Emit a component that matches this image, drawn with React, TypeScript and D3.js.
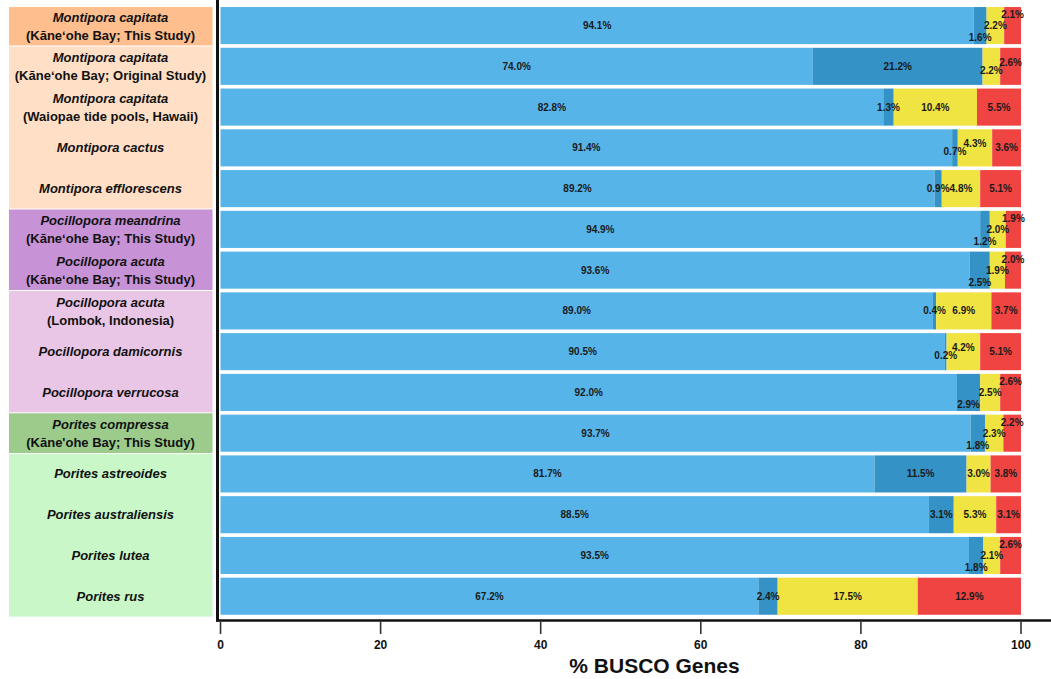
import React from 'react';
import * as d3 from 'd3';

// Species shown on the y axis (italic first line) and their locality notes (second line)
const species = [
  'Montipora capitata',
  'Montipora capitata',
  'Montipora capitata',
  'Montipora cactus',
  'Montipora efflorescens',
  'Pocillopora meandrina',
  'Pocillopora acuta',
  'Pocillopora acuta',
  'Pocillopora damicornis',
  'Pocillopora verrucosa',
  'Porites compressa',
  'Porites astreoides',
  'Porites australiensis',
  'Porites lutea',
  'Porites rus',
];
const localities = [
  '(Kāneʻohe Bay; This Study)',
  '(Kāneʻohe Bay; Original Study)',
  '(Waiopae tide pools, Hawaii)',
  '',
  '',
  '(Kāneʻohe Bay; This Study)',
  '(Kāneʻohe Bay; This Study)',
  '(Lombok, Indonesia)',
  '',
  '',
  "(Kāne'ohe Bay; This Study)",
  '',
  '',
  '',
  '',
];

// BUSCO categories (percent of genes)
const completeSingle = [94.1, 74.0, 82.8, 91.4, 89.2, 94.9, 93.6, 89.0, 90.5, 92.0, 93.7, 81.7, 88.5, 93.5, 67.2];
const completeDuplicated = [1.6, 21.2, 1.3, 0.7, 0.9, 1.2, 2.5, 0.4, 0.2, 2.9, 1.8, 11.5, 3.1, 1.8, 2.4];
const fragmented = [2.2, 2.2, 10.4, 4.3, 4.8, 2.0, 1.9, 6.9, 4.2, 2.5, 2.3, 3.0, 5.3, 2.1, 17.5];
const missing = [2.1, 2.6, 5.5, 3.6, 5.1, 1.9, 2.0, 3.7, 5.1, 2.6, 2.2, 3.8, 3.1, 2.6, 12.9];

const categoryKeys = ['single', 'duplicated', 'fragmented', 'missing'];
const categoryColors = ['#56B4E9', '#3492C7', '#F0E442', '#F04442'];

// Background band for each species label, grouped by genus / study
const groupColors = ['#FFBE8E', '#FFDFC5', '#C793D6', '#EAC6E6', '#9CCB8C', '#C9F7C8'];
const rowGroup = [0, 1, 1, 1, 1, 2, 2, 3, 3, 3, 4, 5, 5, 5, 5];

const xTicks = [0, 20, 40, 60, 80, 100];

const W = 1051;
const H = 679;
const FONT = '"Liberation Sans", Arial, Helvetica, sans-serif';

// Rough bold 10px glyph widths for label collision checks
function labelWidth(s: string): number {
  let w = 0;
  for (const c of s) {
    if (c === '.') w += 2.78;
    else if (c === '%') w += 8.89;
    else w += 5.56;
  }
  return w;
}

export default function App() {
  const rows = species.map((s, i) => ({
    id: String(i),
    single: completeSingle[i],
    duplicated: completeDuplicated[i],
    fragmented: fragmented[i],
    missing: missing[i],
  }));

  const x = d3.scaleLinear().domain([0, 100]).range([220.5, 1021]);
  const y = d3
    .scaleBand<string>()
    .domain(rows.map((r) => r.id))
    .range([5.2, 616.6])
    .paddingInner(0.09)
    .paddingOuter(0.045);
  const bw = y.bandwidth();
  const gap = y.step() - bw;

  const stacked = d3.stack<any>().keys(categoryKeys)(rows);

  // Value labels: centred on their segment, crowded neighbours staggered vertically
  type Lab = { text: string; cx: number; cy: number; dy: number };
  const labels: Lab[] = [];
  rows.forEach((r, i) => {
    const items = stacked.map((layer) => {
      const d = layer[i];
      const v = (r as any)[layer.key];
      const text = v.toFixed(1) + '%';
      return { text, cx: x((d[0] + d[1]) / 2), w: labelWidth(text) };
    });
    // build clusters of overlapping neighbours
    const clusters: number[][] = [];
    let cur: number[] = [0];
    for (let k = 1; k < items.length; k++) {
      const a = items[k - 1];
      const b = items[k];
      if (b.cx - a.cx < (a.w + b.w) / 2 - 0.8) cur.push(k);
      else {
        clusters.push(cur);
        cur = [k];
      }
    }
    clusters.push(cur);
    const cy = (y(r.id) as number) + bw / 2;
    clusters.forEach((c) => {
      const offs = c.length === 3 ? [12, 0, -11] : c.length === 2 ? [4, -4] : c.length === 4 ? [12, 4, -4, -11] : [0];
      c.forEach((k, j) => {
        labels.push({ text: items[k].text, cx: items[k].cx, cy, dy: offs[j] });
      });
    });
  });

  // Group spans for the label backgrounds
  const spans: { g: number; from: number; to: number }[] = [];
  rowGroup.forEach((g, i) => {
    const last = spans[spans.length - 1];
    if (last && last.g === g) last.to = i;
    else spans.push({ g, from: i, to: i });
  });

  const labelX = 110.5;

  return (
    <svg
      width={W}
      height={H}
      style={{ position: 'absolute', left: 0, top: 0, background: '#fff' }}
      fontFamily={FONT}
    >
      {/* label backgrounds */}
      {spans.map((s, k) => {
        const top = (y(String(s.from)) as number) - gap / 2 + (k === 0 ? gap / 2 : 0.5);
        const bottom = (y(String(s.to)) as number) + bw + gap / 2 - (k === spans.length - 1 ? 0 : 0.5);
        return <rect key={k} x={9} y={top} width={203.5} height={bottom - top} fill={groupColors[s.g]} />;
      })}

      {/* species labels */}
      {rows.map((r, i) => {
        const cy = (y(r.id) as number) + bw / 2;
        const two = localities[i] !== '';
        return (
          <g key={r.id} fontSize={13} fontWeight="bold" fill="#111" textAnchor="middle">
            <text x={labelX} y={two ? cy - 8.5 : cy} dominantBaseline="central" fontStyle="italic">
              {species[i]}
            </text>
            {two && (
              <text x={labelX} y={cy + 9.5} dominantBaseline="central">
                {localities[i]}
              </text>
            )}
          </g>
        );
      })}

      {/* stacked bars */}
      {stacked.map((layer, li) => (
        <g key={layer.key} fill={categoryColors[li]}>
          {layer.map((d, i) => (
            <rect
              key={i}
              x={x(d[0])}
              y={y(String(i)) as number}
              width={Math.max(0, x(d[1]) - x(d[0]))}
              height={bw}
            />
          ))}
        </g>
      ))}

      {/* value labels */}
      <g fontSize={10} fontWeight="bold" fill="#1a1a1a" textAnchor="middle">
        {labels.map((l, k) => (
          <text key={k} x={l.cx} y={l.cy + l.dy} dominantBaseline="central">
            {l.text}
          </text>
        ))}
      </g>

      {/* axis frame */}
      <line x1={217.5} x2={217.5} y1={0} y2={621.5} stroke="#111" strokeWidth={3} />
      <line x1={216} x2={W} y1={620.5} y2={620.5} stroke="#111" strokeWidth={2.5} />

      {/* x axis ticks */}
      {xTicks.map((t) => (
        <g key={t}>
          <line x1={x(t)} x2={x(t)} y1={621.5} y2={634} stroke="#333" strokeWidth={1.6} />
          <text x={x(t)} y={645} textAnchor="middle" dominantBaseline="central" fontSize={12} fontWeight="bold" fill="#111">
            {t}
          </text>
        </g>
      ))}
      <text x={654.5} y={665} textAnchor="middle" dominantBaseline="central" fontSize={21} fontWeight="bold" fill="#111">
        % BUSCO Genes
      </text>
    </svg>
  );
}
